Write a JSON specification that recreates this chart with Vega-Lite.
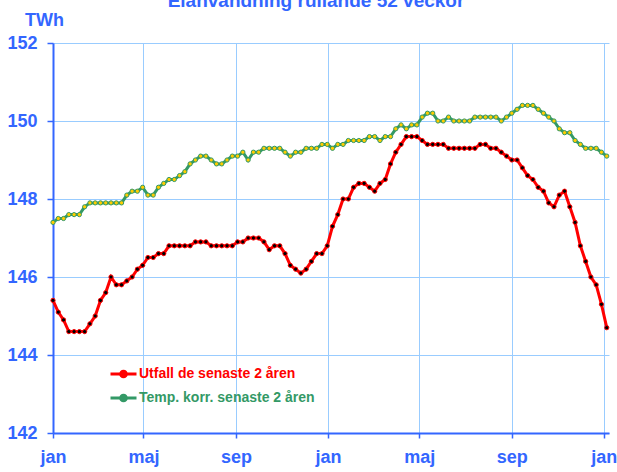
{
  "$schema": "https://vega.github.io/schema/vega-lite/v6.json",
  "autosize": "none",
  "width": 556,
  "height": 390,
  "padding": {"left": 53, "top": 43, "right": 8, "bottom": 39},
  "background": "white",
  "title": {"text": "Elanvändning rullande 52 veckor", "color": "#3366FF", "font": "Liberation Sans", "fontSize": 19, "fontWeight": "bold", "offset": 0, "dx": -15},
  "config": {"view": {"stroke": null}},
  "data": {
    "values": [
      {"d":"2011-01-01","u":145.4,"t":147.4},{"d":"2011-01-08","u":145.1,"t":147.5},{"d":"2011-01-15","u":144.9,"t":147.5},{"d":"2011-01-22","u":144.6,"t":147.6},{"d":"2011-01-29","u":144.6,"t":147.6},{"d":"2011-02-05","u":144.6,"t":147.6},{"d":"2011-02-12","u":144.6,"t":147.8},{"d":"2011-02-19","u":144.8,"t":147.9},{"d":"2011-02-26","u":145.0,"t":147.9},{"d":"2011-03-05","u":145.4,"t":147.9},
      {"d":"2011-03-12","u":145.6,"t":147.9},{"d":"2011-03-19","u":146.0,"t":147.9},{"d":"2011-03-26","u":145.8,"t":147.9},{"d":"2011-04-02","u":145.8,"t":147.9},{"d":"2011-04-09","u":145.9,"t":148.1},{"d":"2011-04-16","u":146.0,"t":148.2},{"d":"2011-04-23","u":146.2,"t":148.2},{"d":"2011-04-30","u":146.3,"t":148.3},{"d":"2011-05-07","u":146.5,"t":148.1},{"d":"2011-05-14","u":146.5,"t":148.1},
      {"d":"2011-05-21","u":146.6,"t":148.3},{"d":"2011-05-28","u":146.6,"t":148.4},{"d":"2011-06-04","u":146.8,"t":148.5},{"d":"2011-06-11","u":146.8,"t":148.5},{"d":"2011-06-18","u":146.8,"t":148.6},{"d":"2011-06-25","u":146.8,"t":148.7},{"d":"2011-07-02","u":146.8,"t":148.9},{"d":"2011-07-09","u":146.9,"t":149.0},{"d":"2011-07-16","u":146.9,"t":149.1},{"d":"2011-07-23","u":146.9,"t":149.1},
      {"d":"2011-07-30","u":146.8,"t":149.0},{"d":"2011-08-06","u":146.8,"t":148.9},{"d":"2011-08-13","u":146.8,"t":148.9},{"d":"2011-08-20","u":146.8,"t":149.0},{"d":"2011-08-27","u":146.8,"t":149.1},{"d":"2011-09-03","u":146.9,"t":149.1},{"d":"2011-09-10","u":146.9,"t":149.2},{"d":"2011-09-17","u":147.0,"t":149.0},{"d":"2011-09-24","u":147.0,"t":149.2},{"d":"2011-10-01","u":147.0,"t":149.2},
      {"d":"2011-10-08","u":146.9,"t":149.3},{"d":"2011-10-15","u":146.7,"t":149.3},{"d":"2011-10-22","u":146.8,"t":149.3},{"d":"2011-10-29","u":146.8,"t":149.3},{"d":"2011-11-05","u":146.6,"t":149.2},{"d":"2011-11-12","u":146.3,"t":149.1},{"d":"2011-11-19","u":146.2,"t":149.2},{"d":"2011-11-26","u":146.1,"t":149.2},{"d":"2011-12-03","u":146.2,"t":149.3},{"d":"2011-12-10","u":146.4,"t":149.3},
      {"d":"2011-12-17","u":146.6,"t":149.3},{"d":"2011-12-24","u":146.6,"t":149.4},{"d":"2011-12-31","u":146.8,"t":149.4},{"d":"2012-01-07","u":147.3,"t":149.3},{"d":"2012-01-14","u":147.6,"t":149.4},{"d":"2012-01-21","u":148.0,"t":149.4},{"d":"2012-01-28","u":148.0,"t":149.5},{"d":"2012-02-04","u":148.3,"t":149.5},{"d":"2012-02-11","u":148.4,"t":149.5},{"d":"2012-02-18","u":148.4,"t":149.5},
      {"d":"2012-02-25","u":148.3,"t":149.6},{"d":"2012-03-03","u":148.2,"t":149.6},{"d":"2012-03-10","u":148.4,"t":149.5},{"d":"2012-03-17","u":148.5,"t":149.6},{"d":"2012-03-24","u":148.9,"t":149.6},{"d":"2012-03-31","u":149.2,"t":149.8},{"d":"2012-04-07","u":149.4,"t":149.9},{"d":"2012-04-14","u":149.6,"t":149.8},{"d":"2012-04-21","u":149.6,"t":149.9},{"d":"2012-04-28","u":149.6,"t":149.9},
      {"d":"2012-05-05","u":149.5,"t":150.1},{"d":"2012-05-12","u":149.4,"t":150.2},{"d":"2012-05-19","u":149.4,"t":150.2},{"d":"2012-05-26","u":149.4,"t":150.0},{"d":"2012-06-02","u":149.4,"t":150.0},{"d":"2012-06-09","u":149.3,"t":150.1},{"d":"2012-06-16","u":149.3,"t":150.0},{"d":"2012-06-23","u":149.3,"t":150.0},{"d":"2012-06-30","u":149.3,"t":150.0},{"d":"2012-07-07","u":149.3,"t":150.0},
      {"d":"2012-07-14","u":149.3,"t":150.1},{"d":"2012-07-21","u":149.4,"t":150.1},{"d":"2012-07-28","u":149.4,"t":150.1},{"d":"2012-08-04","u":149.3,"t":150.1},{"d":"2012-08-11","u":149.3,"t":150.1},{"d":"2012-08-18","u":149.2,"t":150.0},{"d":"2012-08-25","u":149.1,"t":150.1},{"d":"2012-09-01","u":149.0,"t":150.2},{"d":"2012-09-08","u":149.0,"t":150.3},{"d":"2012-09-15","u":148.8,"t":150.4},
      {"d":"2012-09-22","u":148.6,"t":150.4},{"d":"2012-09-29","u":148.5,"t":150.4},{"d":"2012-10-06","u":148.3,"t":150.3},{"d":"2012-10-13","u":148.2,"t":150.2},{"d":"2012-10-20","u":147.9,"t":150.1},{"d":"2012-10-27","u":147.8,"t":150.0},{"d":"2012-11-03","u":148.1,"t":149.8},{"d":"2012-11-10","u":148.2,"t":149.7},{"d":"2012-11-17","u":147.8,"t":149.7},{"d":"2012-11-24","u":147.4,"t":149.5},
      {"d":"2012-12-01","u":146.8,"t":149.4},{"d":"2012-12-08","u":146.4,"t":149.3},{"d":"2012-12-15","u":146.0,"t":149.3},{"d":"2012-12-22","u":145.8,"t":149.3},{"d":"2012-12-29","u":145.3,"t":149.2},{"d":"2013-01-05","u":144.7,"t":149.1}
    ],
    "format": {"parse": {"d": "date:'%Y-%m-%d'"}}
  },
  "transform": [{"fold": ["u", "t"], "as": ["k", "v"]}],
  "encoding": {
    "x": {
      "field": "d", "type": "temporal",
      "scale": {"domain": [{"year": 2011, "month": 1, "date": 1}, {"year": 2013, "month": 1, "date": 8}]},
      "axis": {
        "title": null,
        "values": [
          {"year": 2011, "month": 1, "date": 1}, {"year": 2011, "month": 5, "date": 1}, {"year": 2011, "month": 9, "date": 1},
          {"year": 2012, "month": 1, "date": 1}, {"year": 2012, "month": 5, "date": 1}, {"year": 2012, "month": 9, "date": 1},
          {"year": 2013, "month": 1, "date": 1}
        ],
        "labelExpr": "['jan','feb','mar','apr','maj','jun','jul','aug','sep','okt','nov','dec'][month(datum.value)]",
        "grid": true, "gridColor": "#99CCFF", "gridWidth": 1,
        "domainColor": "#3366FF", "domainWidth": 2,
        "tickColor": "#3366FF", "tickSize": 5, "tickWidth": 1.5,
        "labelColor": "#3366FF", "labelFont": "Liberation Sans", "labelFontSize": 18, "labelFontWeight": "bold",
        "labelPadding": 10, "labelFlush": false, "labelOverlap": false
      }
    },
    "y": {
      "field": "v", "type": "quantitative",
      "scale": {"domain": [142, 152], "nice": false, "zero": false},
      "axis": {
        "values": [142, 144, 146, 148, 150, 152],
        "title": "TWh", "titleAngle": 0, "titleX": -9, "titleY": -18, "titleAlign": "center", "titleBaseline": "alphabetic",
        "titleColor": "#3366FF", "titleFont": "Liberation Sans", "titleFontSize": 18, "titleFontWeight": "bold",
        "grid": true, "gridColor": "#99CCFF", "gridWidth": 1,
        "domainColor": "#3366FF", "domainWidth": 2,
        "tickColor": "#3366FF", "tickSize": 6, "tickWidth": 1.5,
        "labelColor": "#3366FF", "labelFont": "Liberation Sans", "labelFontSize": 18, "labelFontWeight": "bold",
        "labelPadding": 10
      }
    }
  },
  "layer": [
    {
      "mark": {"type": "line", "strokeWidth": 3},
      "encoding": {
        "stroke": {
          "field": "k", "type": "nominal",
          "scale": {"domain": ["u", "t"], "range": ["#FF0000", "#339966"]},
          "legend": {
            "orient": "none", "legendX": 56, "legendY": 323, "title": null,
            "symbolType": "M-1,0L3,0M0.56,0A0.44,0.44,0,1,1,1.44,0A0.44,0.44,0,1,1,0.56,0Z",
            "symbolSize": 169, "symbolStrokeWidth": 3,
            "labelFont": "Liberation Sans", "labelFontSize": 14, "labelFontWeight": "bold", "labelLimit": 0,
            "labelExpr": "datum.value == 'u' ? 'Utfall de senaste 2 åren' : 'Temp. korr. senaste 2 åren'",
            "rowPadding": 6, "labelOffset": 14,
            "encode": {
              "labels": {"update": {"fill": {"signal": "datum.value == 'u' ? '#FF0000' : '#339966'"}}},
              "symbols": {"update": {"fill": {"signal": "datum.value == 'u' ? '#000000' : '#FFCC00'"}}}
            }
          }
        }
      }
    },
    {
      "mark": {"type": "point", "filled": false, "shape": "circle", "size": 18, "strokeWidth": 1, "opacity": 1},
      "encoding": {
        "stroke": {"field": "k", "type": "nominal", "legend": null},
        "fill": {"field": "k", "type": "nominal", "scale": {"domain": ["u", "t"], "range": ["#000000", "#FFCC00"]}, "legend": null}
      }
    }
  ]
}
